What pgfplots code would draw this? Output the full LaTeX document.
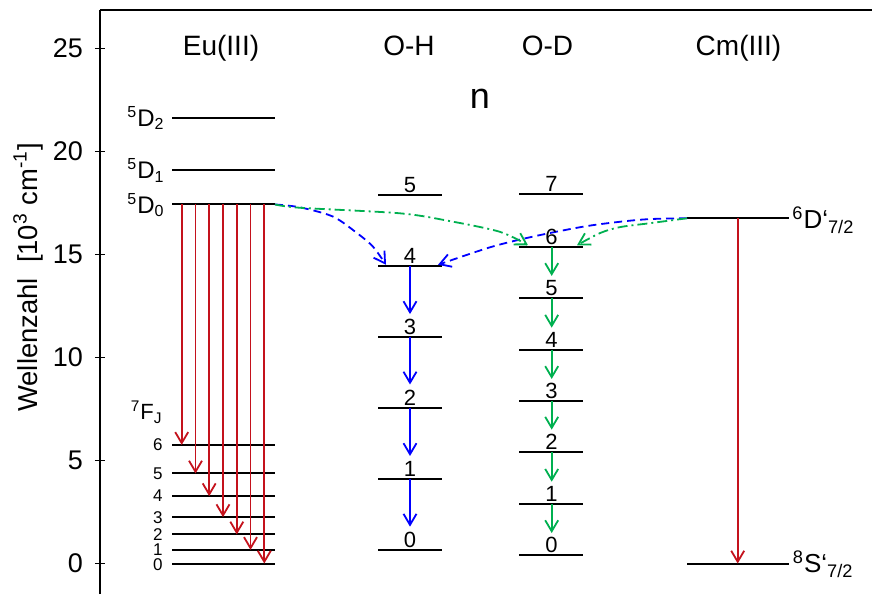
\documentclass[border=0pt]{standalone}
\usepackage{pgfplots}
\pgfplotsset{compat=1.18}
\usepackage{pgfplotstable}
\usepackage{fontspec}
\setmainfont{Liberation Sans}
\usetikzlibrary{arrows.meta}

\definecolor{eured}{RGB}{196,18,28}
\definecolor{ohblue}{RGB}{0,0,255}
\definecolor{odgreen}{RGB}{0,176,80}
\newcommand\fs[1]{\fontsize{#1}{#1}\selectfont}
\tikzset{
  nb/.style={anchor=base, font=\fs{11}, yshift=1.3pt, inner sep=0pt},
  fj/.style={anchor=east, font=\fs{8.5}, inner sep=0pt},
}

% energy levels: left end x, energy y (10^3 cm^-1), line length u
\pgfplotstableread{
x y u
172 21.64 103
172 19.11 103
172 17.43 103
172 5.76 103
172 4.37 103
172 3.27 103
172 2.25 103
172 1.41 103
172 0.66 103
172 0.00 103
}\eulevels
\pgfplotstableread{
x y u
378 0.66 64
378 4.09 64
378 7.56 64
378 10.98 64
378 14.44 64
378 17.89 64
}\ohlevels
\pgfplotstableread{
x y u
519 0.41 64
519 2.90 64
519 5.43 64
519 7.89 64
519 10.38 64
519 12.89 64
519 15.38 64
519 17.92 64
}\odlevels
\pgfplotstableread{
x y u
687 16.76 102
687 0.00 102
}\cmlevels

% transitions: start (x,y), vertical extent v
\pgfplotstableread{
x y v
181.7 17.43 -11.67
195.5 17.43 -13.06
209.2 17.43 -14.16
223.0 17.43 -15.18
236.8 17.43 -16.02
250.5 17.43 -16.77
264.3 17.43 -17.43
737.7 16.76 -16.76
}\redarrows
\pgfplotstableread{
x y v
410 14.44 -2.33
410 10.98 -2.29
410 7.56 -2.34
410 4.09 -2.30
}\oharrows
\pgfplotstableread{
x y v
551.7 15.38 -1.42
551.7 12.89 -1.44
551.7 10.38 -1.42
551.7 7.89 -1.39
551.7 5.43 -1.46
551.7 2.90 -1.42
}\odarrows

\begin{document}
\begin{tikzpicture}
\useasboundingbox (0,0) rectangle (436pt,297pt);
\begin{axis}[
  at={(50pt,0pt)}, anchor=south west,
  scale only axis, width=386pt, height=292pt,
  xmin=100, xmax=872, ymin=-1.48, ymax=26.87,
  axis x line*=top, axis y line*=left,
  axis line style={line width=1pt, black},
  xtick=\empty, ytick={0,5,...,25},
  tick align=center, major tick length=5pt,
  tick style={line width=0.8pt, black},
  /pgf/number format/assume math mode=true,
  yticklabel style={font=\fs{13.5}, xshift=-2.5pt},
  ylabel={Wellenzahl\ \ [10\textsuperscript{3} cm\textsuperscript{-1}]},
  ylabel style={at={(axis description cs:-0.0816,0.542)}, anchor=base, rotate=0, font=\fs{13.7}},
  clip=false,
  lvl/.style={black, line width=1pt, quiver={u=\thisrow{u}, v=0}},
  tip/.style={-{Straight Barb[length=5.5pt,width=6.5pt]}},
]
% levels
\addplot[lvl] table {\eulevels};
\addplot[lvl] table {\ohlevels};
\addplot[lvl] table {\odlevels};
\addplot[lvl] table {\cmlevels};

% radiative and vibrational transitions
\addplot[eured, line width=0.9pt, tip, quiver={u=0, v=\thisrow{v}}] table {\redarrows};
\addplot[ohblue, line width=0.9pt, tip, quiver={u=0, v=\thisrow{v}}] table {\oharrows};
\addplot[odgreen, line width=0.9pt, tip, quiver={u=0, v=\thisrow{v}}] table {\odarrows};

% energy transfer to the O-H and O-D vibrations
\addplot[ohblue, line width=0.9pt, dash pattern=on 4pt off 2.5pt, smooth, tip]
  coordinates {(275,17.43) (300,17.29) (333,16.84) (357,16.04) (373,15.38) (386,14.5)};
\addplot[ohblue, line width=0.9pt, dash pattern=on 4pt off 2.5pt, smooth, tip]
  coordinates {(687,16.76) (650,16.72) (620,16.59) (583,16.35) (533,15.87) (490,15.35) (438,14.5)};
\addplot[odgreen, line width=0.9pt, dash pattern=on 5pt off 2pt on 1pt off 2pt, smooth, tip]
  coordinates {(275,17.43) (300,17.27) (400,17.0) (450,16.62) (500,16.1) (528,15.45)};
\addplot[odgreen, line width=0.9pt, dash pattern=on 5pt off 2pt on 1pt off 2pt, smooth, tip]
  coordinates {(687,16.76) (650,16.52) (620,16.33) (600,16.04) (577,15.45)};

% column headings
\node[anchor=base, font=\fs{14}] at (axis cs:221,24.68) {Eu(III)};
\node[anchor=base, font=\fs{14}] at (axis cs:409,24.68) {O-H};
\node[anchor=base, font=\fs{14}] at (axis cs:547.5,24.68) {O-D};
\node[anchor=base, font=\fs{14}] at (axis cs:738.5,24.68) {Cm(III)};
\node[anchor=base, font=\fs{18}] at (axis cs:480,22.11) {n};

% Eu(III) term symbols
\node[anchor=base east, font=\fs{12}, yshift=-4.3pt, inner sep=0pt] at (axis cs:165,21.64) {\textsuperscript{5}D\textsubscript{2}};
\node[anchor=base east, font=\fs{12}, yshift=-4.3pt, inner sep=0pt] at (axis cs:165,19.11) {\textsuperscript{5}D\textsubscript{1}};
\node[anchor=base east, font=\fs{12}, yshift=-4.3pt, inner sep=0pt] at (axis cs:165,17.43) {\textsuperscript{5}D\textsubscript{0}};
\node[anchor=base east, font=\fs{11}, inner sep=0pt] at (axis cs:163,6.97) {\textsuperscript{7}F\textsubscript{J}};
\node[fj] at (axis cs:163,5.76) {6};
\node[fj] at (axis cs:163,4.37) {5};
\node[fj] at (axis cs:163,3.27) {4};
\node[fj] at (axis cs:163,2.25) {3};
\node[fj, yshift=0.2pt] at (axis cs:163,1.41) {2};
\node[fj, yshift=0.2pt] at (axis cs:163,0.66) {1};
\node[fj, yshift=-0.8pt] at (axis cs:163,0.00) {0};

% vibrational quantum numbers, O-H
\node[nb] at (axis cs:410,0.66) {0};
\node[nb] at (axis cs:410,4.09) {1};
\node[nb] at (axis cs:410,7.56) {2};
\node[nb] at (axis cs:410,10.98) {3};
\node[nb] at (axis cs:410,14.44) {4};
\node[nb] at (axis cs:410,17.89) {5};
% vibrational quantum numbers, O-D
\node[nb] at (axis cs:551.5,0.41) {0};
\node[nb] at (axis cs:551.5,2.90) {1};
\node[nb] at (axis cs:551.5,5.43) {2};
\node[nb] at (axis cs:551.5,7.89) {3};
\node[nb] at (axis cs:551.5,10.38) {4};
\node[nb] at (axis cs:551.5,12.89) {5};
\node[nb] at (axis cs:551.5,15.38) {6};
\node[nb] at (axis cs:551.5,17.92) {7};

% Cm(III) term symbols
\node[anchor=base west, font=\fs{13}, inner sep=0pt] at (axis cs:792,16.27) {\textsuperscript{6}D‘\textsubscript{7/2}};
\node[anchor=base west, font=\fs{13}, inner sep=0pt] at (axis cs:792.5,-0.44) {\textsuperscript{8}S‘\textsubscript{7/2}};
\end{axis}
\end{tikzpicture}
\end{document}
